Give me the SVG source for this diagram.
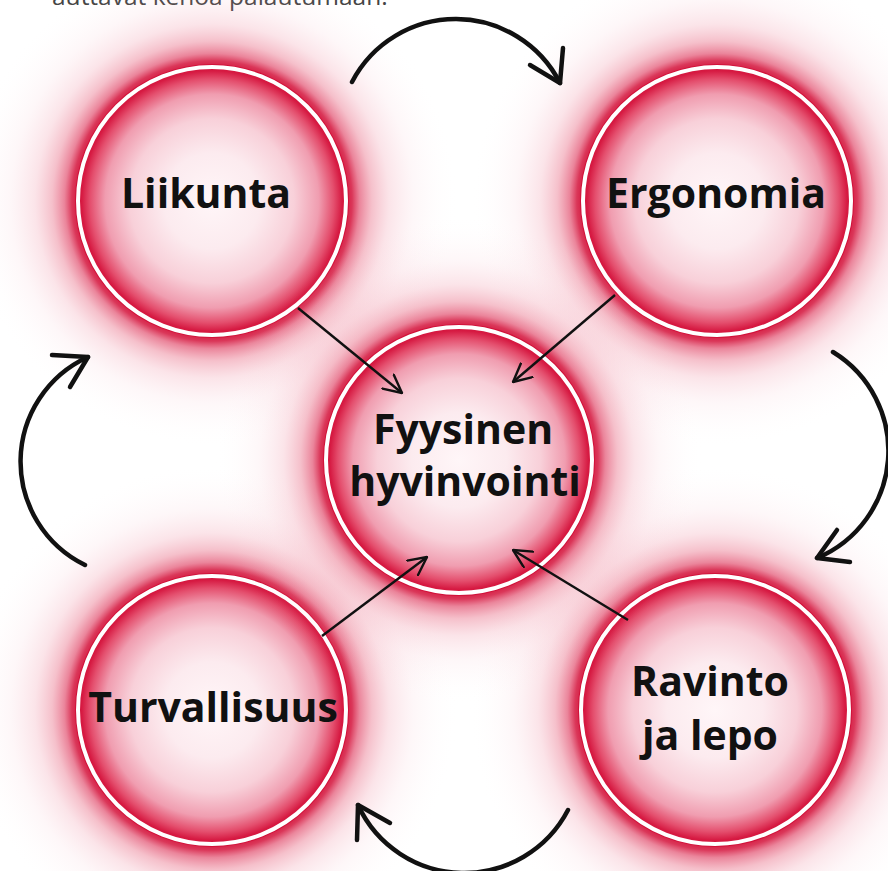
<svg xmlns="http://www.w3.org/2000/svg" width="888" height="871" viewBox="0 0 888 871">
<defs>
<radialGradient id="glow" cx="0.5" cy="0.5" r="0.5">
<stop offset="0.54" stop-color="#d4143c" stop-opacity="1"/>
<stop offset="0.57" stop-color="#d4143c" stop-opacity="0.85"/>
<stop offset="0.60" stop-color="#dc2c52" stop-opacity="0.58"/>
<stop offset="0.65" stop-color="#e4506e" stop-opacity="0.36"/>
<stop offset="0.72" stop-color="#ec7890" stop-opacity="0.2"/>
<stop offset="0.82" stop-color="#f3a5b6" stop-opacity="0.09"/>
<stop offset="0.92" stop-color="#f8c8d2" stop-opacity="0.03"/>
<stop offset="1" stop-color="#ffffff" stop-opacity="0"/>
</radialGradient>
<radialGradient id="disk" cx="0.5" cy="0.5" r="0.5">
<stop offset="0" stop-color="#fff6f8"/>
<stop offset="0.35" stop-color="#fcebef"/>
<stop offset="0.60" stop-color="#f8d0d9"/>
<stop offset="0.78" stop-color="#f09db0"/>
<stop offset="0.89" stop-color="#e44e6d"/>
<stop offset="0.95" stop-color="#d61a42"/>
<stop offset="1" stop-color="#d01038"/>
</radialGradient>
<marker id="ah" markerUnits="userSpaceOnUse" viewBox="0 0 20 20" refX="19" refY="10" markerWidth="20" markerHeight="20" orient="auto">
<path d="M1,1 L19,10 L1,19" fill="none" stroke="#111" stroke-width="2.4" stroke-linecap="round" stroke-linejoin="round"/>
</marker>
</defs>
<style>
.glow{fill:url(#glow)}
.disk{fill:url(#disk)}
.ring{fill:none;stroke:#ffffff;stroke-width:4}
.lbl{font-family:"Open Sans","Noto Sans","Liberation Sans",sans-serif;font-weight:700;font-size:41px;fill:#111;text-anchor:middle}
.cap{font-family:"Open Sans","Noto Sans","Liberation Sans",sans-serif;font-size:24.5px;fill:#444}
.sa{fill:none;stroke:#111;stroke-width:2.4;marker-end:url(#ah)}
.cv{fill:none;stroke:#111;stroke-width:4.5;stroke-linecap:round;stroke-linejoin:round}
</style>
<rect width="888" height="871" fill="#ffffff"/>
<text class="cap" x="52" y="5">auttavat kehoa palautumaan.</text>
<g id="node-liikunta">
<circle class="glow" cx="212" cy="201" r="246"/>
<circle class="disk" cx="212" cy="201" r="137"/>
<circle class="ring" cx="212" cy="201" r="134"/>
<text class="lbl" x="206" y="208">Liikunta</text>
</g>
<g id="node-ergonomia">
<circle class="glow" cx="717" cy="201" r="246"/>
<circle class="disk" cx="717" cy="201" r="137"/>
<circle class="ring" cx="717" cy="201" r="134"/>
<text class="lbl" x="716" y="208">Ergonomia</text>
</g>
<g id="node-turvallisuus">
<circle class="glow" cx="212" cy="710" r="246"/>
<circle class="disk" cx="212" cy="710" r="137"/>
<circle class="ring" cx="212" cy="710" r="134"/>
<text class="lbl" x="213" y="722">Turvallisuus</text>
</g>
<g id="node-ravinto">
<circle class="glow" cx="715" cy="710" r="246"/>
<circle class="disk" cx="715" cy="710" r="137"/>
<circle class="ring" cx="715" cy="710" r="134"/>
<text class="lbl" x="710" y="696">Ravinto</text>
<text class="lbl" x="710" y="750">ja lepo</text>
</g>
<g id="node-fyysinen">
<circle class="glow" cx="459" cy="460" r="244"/>
<circle class="disk" cx="459" cy="460" r="136"/>
<circle class="ring" cx="459" cy="460" r="133"/>
<text class="lbl" x="463" y="444">Fyysinen</text>
<text class="lbl" x="465" y="496">hyvinvointi</text>
</g>
<g id="connectors">
<path class="sa" d="M298,308 L402,393"/>
<path class="sa" d="M615,295 L513,382"/>
<path class="sa" d="M322,636 L427,557"/>
<path class="sa" d="M628,620 L513,550"/>
<path class="cv" d="M352,82 A117,117 0 0 1 560,83"/>
<path class="cv" d="M530,65 L560,83 L563,48"/>
<path class="cv" d="M833,352 A116,116 0 0 1 817,558"/>
<path class="cv" d="M837,530 L817,558 L850,562"/>
<path class="cv" d="M568,810 A117,117 0 0 1 358,805"/>
<path class="cv" d="M390,823 L358,805 L357,840"/>
<path class="cv" d="M85,565 A115,115 0 0 1 88,357"/>
<path class="cv" d="M52,355 L88,357 L70,387"/>
</g>
</svg>
